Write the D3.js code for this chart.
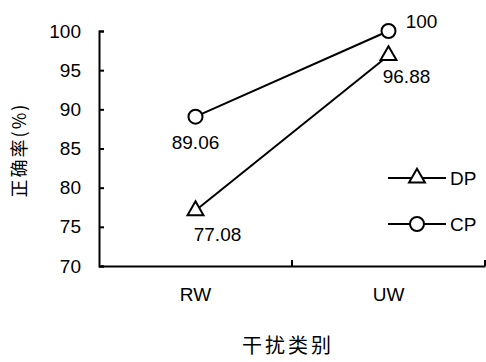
<!DOCTYPE html>
<html>
<head>
<meta charset="utf-8">
<script src="https://cdn.jsdelivr.net/npm/d3@7"></script>
<style>
  body { margin: 0; background: #fff; }
  svg { display: block; font-family: Arial, "Liberation Sans", sans-serif; }
</style>
</head>
<body>
<div id="chart"></div>
<script>
// Data
const categories = ["RW", "UW"];
const dpValues = [77.08, 96.88];
const cpValues = [89.06, 100];
const yTicks = [70, 75, 80, 85, 90, 95, 100];

const width = 486, height = 362;
const margin = { top: 31, right: 1, bottom: 96, left: 99 };

const svg = d3.select("#chart")
    .append("svg")
    .attr("width", width)
    .attr("height", height);

const x = d3.scaleBand()
    .domain(categories)
    .range([margin.left, width - margin.right]);

const y = d3.scaleLinear()
    .domain([70, 100])
    .range([height - margin.bottom, margin.top]);

// Y axis (ticks point inward)
const yAxis = svg.append("g")
    .attr("transform", `translate(${margin.left},0)`)
    .call(d3.axisLeft(y).tickValues(yTicks).tickSize(-5).tickPadding(18));
yAxis.select(".domain").attr("stroke-width", 2);
yAxis.selectAll(".tick line").attr("stroke-width", 2);
yAxis.selectAll("text")
    .style("font-size", "19px")
    .attr("fill", "#000");

// X axis
const xAxis = svg.append("g")
    .attr("transform", `translate(0,${y(70)})`)
    .call(d3.axisBottom(x).tickSize(0).tickPadding(22));
xAxis.select(".domain").attr("stroke-width", 2);
xAxis.selectAll("text")
    .style("font-size", "19px")
    .attr("fill", "#000");
// boundary ticks between categories, pointing up
xAxis.selectAll(".bound")
    .data(categories)
    .enter()
    .append("line")
    .attr("x1", d => x(d) + x.step())
    .attr("x2", d => x(d) + x.step())
    .attr("y1", 0)
    .attr("y2", -6)
    .attr("stroke", "#000")
    .attr("stroke-width", 2);

// Axis titles
svg.append("text")
    .attr("transform", `translate(26,150) rotate(-90)`)
    .attr("text-anchor", "middle")
    .style("font-family", "'Noto Sans CJK SC', sans-serif")
    .style("font-size", "18px")
    .style("letter-spacing", "2px")
    .text("正确率(%)");

svg.append("text")
    .attr("x", 288)
    .attr("y", 353)
    .attr("text-anchor", "middle")
    .style("font-family", "'Noto Sans CJK SC', sans-serif")
    .style("font-size", "20px")
    .style("letter-spacing", "3px")
    .text("干扰类别");

const cx = d => x(d) + x.bandwidth() / 2;

const line = d3.line()
    .x(d => cx(d.cat))
    .y(d => y(d.v));

const dpData = categories.map((c, i) => ({ cat: c, v: dpValues[i] }));
const cpData = categories.map((c, i) => ({ cat: c, v: cpValues[i] }));

const triangle = d3.symbol().type(d3.symbolTriangle).size(110);

// DP series
svg.append("path")
    .datum(dpData)
    .attr("d", line)
    .attr("fill", "none")
    .attr("stroke", "#000")
    .attr("stroke-width", 2);
svg.selectAll(".dp")
    .data(dpData)
    .enter()
    .append("path")
    .attr("class", "dp")
    .attr("d", triangle)
    .attr("transform", d => `translate(${cx(d.cat)},${y(d.v)})`)
    .attr("fill", "#fff")
    .attr("stroke", "#000")
    .attr("stroke-width", 2);

// CP series
svg.append("path")
    .datum(cpData)
    .attr("d", line)
    .attr("fill", "none")
    .attr("stroke", "#000")
    .attr("stroke-width", 2);
svg.selectAll(".cp")
    .data(cpData)
    .enter()
    .append("circle")
    .attr("class", "cp")
    .attr("cx", d => cx(d.cat))
    .attr("cy", d => y(d.v))
    .attr("r", 7)
    .attr("fill", "#fff")
    .attr("stroke", "#000")
    .attr("stroke-width", 2);

// Value labels
const fmt = v => (v === 100 ? "100" : v.toFixed(2));
const labelOffsets = {
    DP: [[22, 30], [18, 28]],
    CP: [[0, 32], [33, -3]]
};
[["DP", dpData], ["CP", cpData]].forEach(([name, data]) => {
    svg.selectAll(".lbl-" + name)
        .data(data)
        .enter()
        .append("text")
        .attr("x", (d, i) => cx(d.cat) + labelOffsets[name][i][0])
        .attr("y", (d, i) => y(d.v) + labelOffsets[name][i][1])
        .attr("text-anchor", "middle")
        .style("font-size", "19px")
        .text(d => fmt(d.v));
});

// Legend
const legend = svg.append("g").attr("transform", "translate(388,0)");
const legendItems = [{ name: "DP", yPos: 178 }, { name: "CP", yPos: 224 }];
legendItems.forEach(item => {
    legend.append("line")
        .attr("x1", 0).attr("x2", 58)
        .attr("y1", item.yPos).attr("y2", item.yPos)
        .attr("stroke", "#000")
        .attr("stroke-width", 2);
    if (item.name === "DP") {
        legend.append("path")
            .attr("d", triangle)
            .attr("transform", `translate(29,${item.yPos})`)
            .attr("fill", "#fff")
            .attr("stroke", "#000")
            .attr("stroke-width", 2);
    } else {
        legend.append("circle")
            .attr("cx", 29).attr("cy", item.yPos).attr("r", 7)
            .attr("fill", "#fff")
            .attr("stroke", "#000")
            .attr("stroke-width", 2);
    }
    legend.append("text")
        .attr("x", 62)
        .attr("y", item.yPos + 7)
        .style("font-size", "19px")
        .text(item.name);
});
</script>
</body>
</html>
